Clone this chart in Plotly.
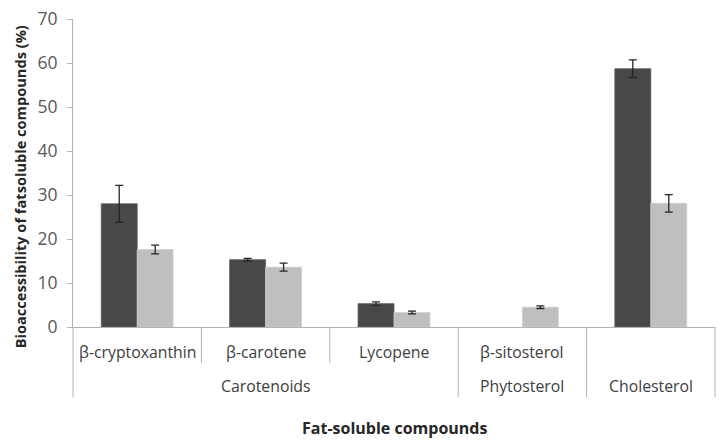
import plotly.graph_objects as go

# ---- data ----
categories = ["β-cryptoxanthin", "β-carotene", "Lycopene", "β-sitosterol", "Cholesterol"]
level1_labels = ["β-cryptoxanthin", "β-carotene", "Lycopene", "β-sitosterol", ""]
groups = ["Carotenoids", "Carotenoids", "Carotenoids", "Phytosterol", "Cholesterol"]
series1_values = [28.0, 15.3, 5.3, None, 58.7]
series1_errors = [4.2, 0.3, 0.4, None, 2.0]
series2_values = [17.6, 13.6, 3.3, 4.5, 28.1]
series2_errors = [1.0, 0.9, 0.3, 0.3, 2.0]
y_tick_values = [0, 10, 20, 30, 40, 50, 60, 70]
y_title = "Bioaccessibility of fatsoluble compounds (%)"
x_title = "Fat-soluble compounds"

FONT = "Open Sans"
AXIS_COLOR = "#b3b3b3"

fig = go.Figure()
fig.add_trace(go.Bar(
    x=categories, y=series1_values, name="Series 1",
    marker=dict(color="#484848", line=dict(color="#5c5c5c", width=0.8)),
    error_y=dict(type="data", array=series1_errors, color="#262626", thickness=1.3, width=4),
))
fig.add_trace(go.Bar(
    x=categories, y=series2_values, name="Series 2",
    marker=dict(color="#bfbfbf", line=dict(color="#cfcfcf", width=0.8)),
    error_y=dict(type="data", array=series2_errors, color="#262626", thickness=1.3, width=4),
))

n = len(categories)
L, R, T, B = 73, 6, 16, 114
W, H = 721, 441
ph = H - T - B

def py(pix):
    # pixel y (from top) -> paper y
    return (H - B - pix) / ph

shapes = []
for i in range(n + 1):
    if i == 0 or i == n or groups[i - 1] != groups[i]:
        y_end = py(398)
    else:
        y_end = py(363)
    shapes.append(dict(type="line", xref="paper", yref="paper",
                       x0=i / n, x1=i / n, y0=0, y1=y_end,
                       line=dict(color=AXIS_COLOR, width=1)))

annotations = []
for c, lab in zip(categories, level1_labels):
    if lab:
        annotations.append(dict(x=c, xref="x", y=py(352), yref="paper", text=lab,
                                showarrow=False, yanchor="middle",
                                font=dict(family=FONT, size=15.8, color="#404040")))
seen = []
for g in groups:
    if g not in seen:
        seen.append(g)
for g in seen:
    idx = [i for i, gg in enumerate(groups) if gg == g]
    center = sum(idx) / len(idx)
    annotations.append(dict(x=center, xref="x", y=py(387), yref="paper", text=g,
                            showarrow=False, yanchor="middle",
                            font=dict(family=FONT, size=15.8, color="#404040")))
annotations.append(dict(x=(20 - L) / (W - L - R), xref="paper", y=py(186), yref="paper",
                        text="<b>" + y_title + "</b>", textangle=-90, showarrow=False,
                        xanchor="center", yanchor="middle",
                        font=dict(family=FONT, size=14.6, color="#262626")))
annotations.append(dict(x=0.5, xref="paper", y=py(429), yref="paper",
                        text="<b>" + x_title + "</b>", showarrow=False,
                        xanchor="center", yanchor="middle",
                        font=dict(family=FONT, size=16, color="#262626")))

fig.update_layout(
    width=W, height=H,
    margin=dict(l=L, r=R, t=T, b=B, pad=0),
    paper_bgcolor="white", plot_bgcolor="white",
    barmode="group", bargap=0.44, bargroupgap=0,
    showlegend=False,
    shapes=shapes, annotations=annotations,
    font=dict(family=FONT),
)
fig.update_xaxes(showticklabels=False, ticks="", showline=True, linecolor=AXIS_COLOR,
                 linewidth=1, showgrid=False, zeroline=False)
fig.update_yaxes(range=[0, 70], tickvals=y_tick_values, showgrid=False, zeroline=False,
                 showline=True, linecolor=AXIS_COLOR, linewidth=1,
                 ticks="outside", ticklen=5, tickcolor=AXIS_COLOR,
                 ticklabelstandoff=6,
                 tickfont=dict(family=FONT, size=17.5, color="#595959"))

fig.write_html("out.html",
               config={"displayModeBar": False},
               post_script="document.body.style.margin='0';document.body.style.padding='0';document.body.style.overflow='hidden';")
